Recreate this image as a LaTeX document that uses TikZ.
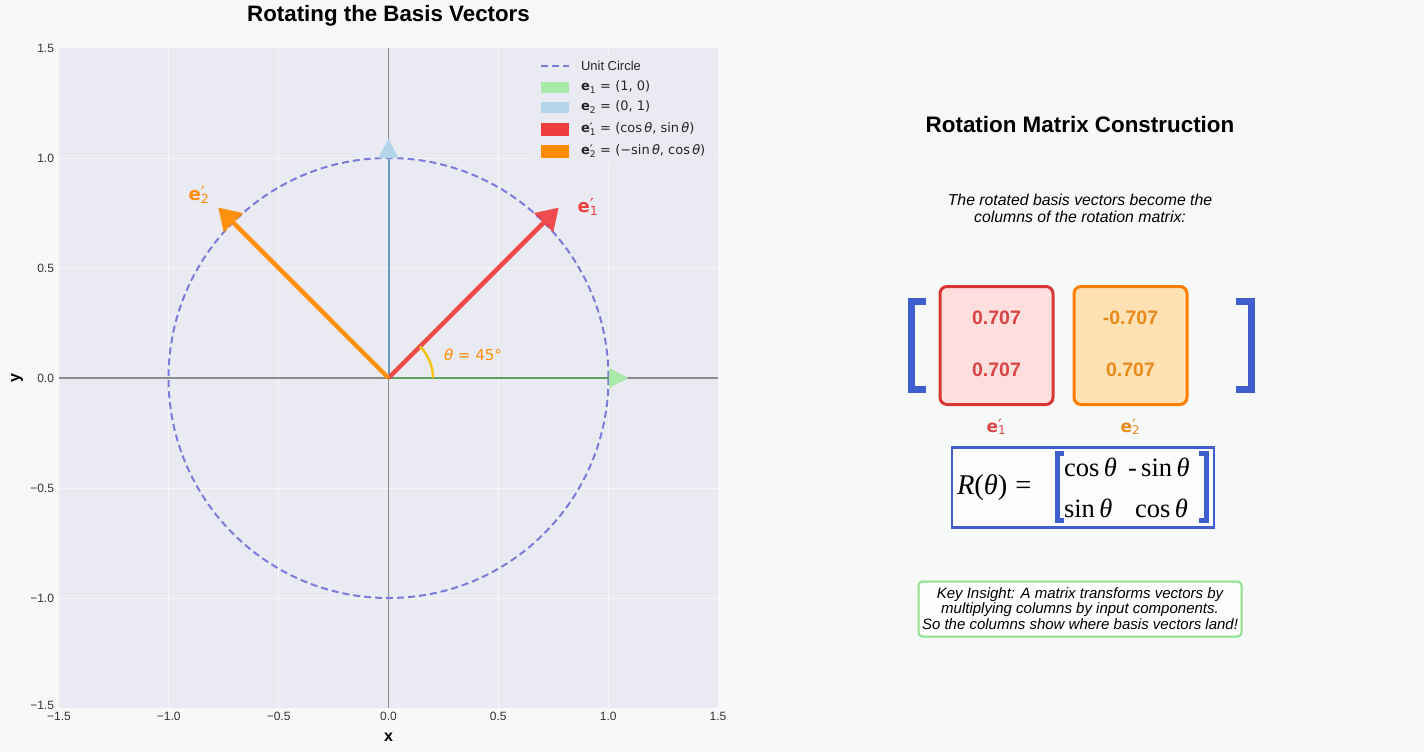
\documentclass[tikz,border=0pt]{standalone}
\usepackage{amsmath}
\usepackage[no-math]{fontspec}
\setmainfont{Liberation Sans}
\newfontfamily\djv{DejaVu Sans}
\newfontfamily\lsr{Liberation Serif}
\usetikzlibrary{arrows.meta}
\definecolor{bg}{HTML}{F7F8F8}
\definecolor{plotbg}{HTML}{EAEAF2}
\definecolor{circ}{HTML}{7B7BDB}
\definecolor{redv}{HTML}{F03C3C}
\definecolor{orangev}{HTML}{FF8C00}
\definecolor{greenline}{HTML}{5E9E5E}
\definecolor{greenhead}{HTML}{A8E8A8}
\definecolor{blueline}{HTML}{6C9AC0}
\definecolor{bluehead}{HTML}{B3D5EA}
\definecolor{axisgray}{HTML}{8C8C8C}
\definecolor{matblue}{HTML}{3F5FCF}
\definecolor{redtxt}{HTML}{D94545}
\definecolor{orangetxt}{HTML}{E88A1A}
\definecolor{pinkfill}{HTML}{FFDEDE}
\definecolor{orangefill}{HTML}{FFE1B3}
\definecolor{keygreen}{HTML}{90E090}
\definecolor{thetayellow}{HTML}{F5C518}
\newcommand\evec[1]{\textbf{e}\textsubscript{#1}}
\newcommand\evecp[1]{\textbf{e}\rlap{\raisebox{0.5pt}{′}}\textsubscript{#1}}
\newcommand\thet{\textit{θ}}
\newcommand\fsz[1]{\fontsize{#1}{#1}\selectfont}
\tikzset{
  gridline/.style={white, line width=0.7, opacity=0.6},
  ticklab/.style={font=\fsz{12}, text=black!80},
  legtxt/.style={font=\djv\fsz{13}, anchor=west, text=black!85},
  legpatch/.style={minimum width=28, minimum height=11, inner sep=0},
  colbox/.style={rounded corners=7, line width=3, minimum width=113, minimum height=118},
  numtxt/.style={font=\bfseries\fsz{19.5}},
  mathtxt/.style={anchor=west, font=\lsr\fsz{26.5}},
}
\begin{document}
\begin{tikzpicture}[x=1pt,y=-1pt, every node/.style={inner sep=0pt, outer sep=0pt}]
\useasboundingbox (0,0) rectangle (1424,752);
\fill[bg] (0,0) rectangle (1424,752);
% ---------- plot ----------
\fill[plotbg] (59,48) rectangle (718,708);
\foreach \gx in {168.8,278.6,498.3,608.2} \draw[gridline] (\gx,48) -- (\gx,708);
\foreach \gy in {158,268,488,598} \draw[gridline] (59,\gy) -- (718,\gy);
\draw[axisgray, line width=1.3] (388.5,48) -- (388.5,708);
\draw[axisgray, line width=1.3] (59,378) -- (718,378);
% ticks
\foreach \v/\py in {1.5/48,1.0/158,0.5/268,0.0/378,−0.5/488,−1.0/598}
  \node[ticklab, anchor=east] at (54,\py) {\v};
\node[ticklab, anchor=east] (ytm) at (54,705) {−1.5};
\foreach \v/\px in {−1.5/59,−1.0/168.8,−0.5/278.6,0.0/388.5,0.5/498.3,1.0/608.2,1.5/718}
  \node[ticklab, anchor=north] at (\px,712) {\v};
\node[font=\bfseries\fsz{16}] (xlab) at (388.5,737) {x};
\node[font=\bfseries\fsz{16}, rotate=90] (ylab) at (17,378) {y};
\node[font=\bfseries\fsz{22.3}] (title) at (388.5,16) {Rotating the Basis Vectors};
% coordinates
\coordinate (O) at (388.5,378);
\coordinate (E1tip) at (628,378);
\coordinate (E2tip) at (388.5,139);
\coordinate (R1tip) at (558.5,207.8);
\coordinate (R2tip) at (218.5,207.8);
% unit circle
\draw[circ, line width=2, dash pattern=on 7 off 4] (O) circle [radius=220];
% basis vectors
\draw[greenline, line width=2, -{Triangle[length=19pt,width=20pt,line width=0.1pt,color=greenhead,fill=greenhead]}] (O) -- (E1tip);
\draw[blueline, line width=2, -{Triangle[length=19pt,width=20pt,line width=0.1pt,color=bluehead,fill=bluehead]}] (O) -- (E2tip);
\draw[redv, line width=4.5, opacity=0.9, -{Triangle[length=21pt,width=27pt,line width=0.1pt]}] (O) -- (R1tip);
\draw[orangev, line width=4.5, opacity=0.95, -{Triangle[length=21pt,width=27pt,line width=0.1pt]}] (O) -- (R2tip);
% theta arc
\draw[thetayellow, line width=2.5] (433,378) arc[start angle=0, end angle=-45, radius=44.5];
\node[anchor=west, text=orangev, font=\djv\fsz{15}] (thetalab) at (444,355) {\thet\ = 45°};
\node[text=orangev, font=\djv\fsz{18}] (e2lab) at (199,195) {\evecp{2}};
\node[text=redv, font=\djv\fsz{18}] (e1lab) at (588,207) {\evecp{1}};
% legend
\fill[plotbg] (530,56) rectangle (714,162);
\coordinate (lu1) at (541,66);
\coordinate (lu2) at (569,66);
\draw[circ, line width=2, dash pattern=on 7 off 4] (lu1) -- (lu2);
\node[legtxt, font=\fsz{13}] (lt0) at (581,66) {Unit Circle};
\node[legpatch, anchor=west, fill=greenhead] (lp1) at (541,87) {};
\node[legtxt] (lt1) at (581,87) {\evec{1} = (1, 0)};
\node[legpatch, anchor=west, fill=bluehead] (lp2) at (541,107) {};
\node[legtxt] (lt2) at (581,107) {\evec{2} = (0, 1)};
\node[legpatch, anchor=west, fill=redv, minimum height=13] (lp3) at (541,129) {};
\node[legtxt] (lt3) at (581,129) {\evecp{1} = (cos\,\thet, sin\,\thet)};
\node[legpatch, anchor=west, fill=orangev, minimum height=13] (lp4) at (541,151) {};
\node[legtxt] (lt4) at (581,151) {\evecp{2} = (−sin\,\thet, cos\,\thet)};
% ---------- right panel ----------
\node[font=\bfseries\fsz{22.4}] (rtitle) at (1080,124) {Rotation Matrix Construction};
\node[font=\itshape\fsz{15.8}, align=center] (sub) at (1080,208)
  {The rotated basis vectors become the\\[1.2pt] columns of the rotation matrix:};
\draw[matblue, line width=7] (926,301) -- (911,301) -- (911,389) -- (926,389);
\draw[matblue, line width=7] (1236,301) -- (1251,301) -- (1251,389) -- (1236,389);
\node[colbox, draw=redv!90!black, fill=pinkfill] (boxA) at (996.5,345.5) {};
\node[colbox, draw=orangev!90!red, fill=orangefill] (boxB) at (1130.5,345.5) {};
\node[numtxt, text=redtxt] (a11) at (996.5,318) {0.707};
\node[numtxt, text=redtxt] (a21) at (996.5,370) {0.707};
\node[numtxt, text=orangetxt] (a12) at (1130.5,318) {-0.707};
\node[numtxt, text=orangetxt] (a22) at (1130.5,370) {0.707};
\node[text=redtxt, font=\djv\fsz{17}] (labA) at (996.5,427) {\evecp{1}};
\node[text=orangetxt, font=\djv\fsz{17}] (labB) at (1130.5,427) {\evecp{2}};
% R(theta) box
\node[draw=matblue, line width=2.2, fill=white!60!bg, minimum width=262, minimum height=80] (rbox) at (1083,487.5) {};
\node[mathtxt, font=\lsr\fsz{28.5}] (req) at (957,488) {\textit{R}(\textit{θ})\hspace{8pt}=};
\draw[matblue, line width=5] (1064,453) -- (1057,453) -- (1057,520) -- (1064,520);
\draw[matblue, line width=5] (1199,453) -- (1206,453) -- (1206,520) -- (1199,520);
\node[mathtxt] (m11) at (1064,467) {cos\,\textit{θ}};
\node[mathtxt] (m12) at (1128,467) {-\,sin\,\textit{θ}};
\node[mathtxt] (m21) at (1064,508) {sin\,\textit{θ}};
\node[mathtxt] (m22) at (1135,508) {cos\,\textit{θ}};
% key insight
\node[draw=keygreen, line width=2, fill=white!70!bg, rounded corners=4, minimum width=323, minimum height=55] (key) at (1080,609) {};
\node[font=\itshape\fsz{15}, align=center] (keytxt) at (1080,608.5)
  {Key Insight: A matrix transforms vectors by\\[0.5pt] multiplying columns by input components.\\[0.5pt] So the columns show where basis vectors land!};
\end{tikzpicture}
\end{document}
